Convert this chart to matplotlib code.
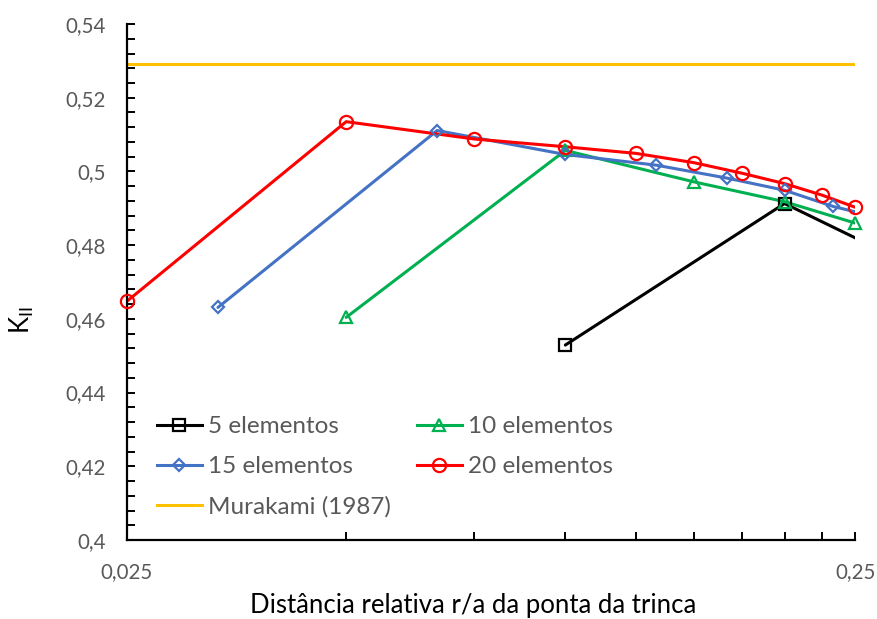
import matplotlib.pyplot as plt
from matplotlib.lines import Line2D
from matplotlib.ticker import FixedLocator, FixedFormatter, MultipleLocator, NullFormatter

plt.rcParams['font.family'] = ['Lato', 'DejaVu Sans']
plt.rcParams['mathtext.default'] = 'regular'

# K_II along the crack front, by number of elements
x_5 = [0.1, 0.2, 0.3]
k_5 = [0.4529, 0.4913, 0.4744]

x_10 = [0.05, 0.1, 0.15, 0.2, 0.25]
k_10 = [0.4604, 0.5057, 0.4972, 0.4918, 0.4860]

x_15 = [1/30, 2/30, 3/30, 4/30, 5/30, 6/30, 7/30, 8/30]
k_15 = [0.4631, 0.5111, 0.5046, 0.5017, 0.4982, 0.4949, 0.4905, 0.4877]

x_20 = [0.025, 0.05, 0.075, 0.1, 0.125, 0.15, 0.175, 0.2, 0.225, 0.25]
k_20 = [0.4648, 0.5135, 0.5088, 0.5067, 0.5049, 0.5024, 0.4995, 0.4967, 0.4936, 0.4903]

k_murakami = 0.5292

x_min, x_max = 0.025, 0.25
y_ticks = [0.40, 0.42, 0.44, 0.46, 0.48, 0.50, 0.52, 0.54]
y_labels = ["0,4", "0,42", "0,44", "0,46", "0,48", "0,5", "0,52", "0,54"]

series = [
    ("5 elementos", x_5, k_5, "black", "s", 8.5),
    ("10 elementos", x_10, k_10, "#00B050", "^", 9),
    ("15 elementos", x_15, k_15, "#4472C4", "D", 6.5),
    ("20 elementos", x_20, k_20, "#FF0000", "o", 9.5),
]

fig = plt.figure(figsize=(8.77, 6.19), dpi=100)
ax = fig.add_axes([0.1448, 0.1276, 0.8302, 0.8336])

handles = {}
for name, xs, ys, color, marker, ms in series:
    ax.plot(xs, ys, color=color, lw=2.2, solid_capstyle="round", zorder=2)
    inside = [(x, y) for x, y in zip(xs, ys) if x_min - 1e-9 <= x <= x_max + 1e-9]
    ax.plot([p[0] for p in inside], [p[1] for p in inside], linestyle="none",
            marker=marker, ms=ms, mfc="none", mec=color, mew=1.6,
            clip_on=False, zorder=3)
    handles[name] = Line2D([], [], color=color, lw=2.2, marker=marker, ms=ms,
                           mfc="none", mec=color, mew=1.6)

ax.axhline(k_murakami, color="#FFC000", lw=2.2, zorder=1)
handles["Murakami (1987)"] = Line2D([], [], color="#FFC000", lw=2.2)

ax.set_xscale("log")
ax.set_xlim(x_min, x_max)
ax.set_ylim(0.40, 0.54)

ax.xaxis.set_major_locator(FixedLocator([0.025, 0.25]))
ax.xaxis.set_major_formatter(FixedFormatter(["0,025", "0,25"]))
ax.xaxis.set_minor_locator(FixedLocator(x_20[1:-1]))
ax.xaxis.set_minor_formatter(NullFormatter())

ax.yaxis.set_major_locator(FixedLocator(y_ticks))
ax.yaxis.set_major_formatter(FixedFormatter(y_labels))
ax.yaxis.set_minor_locator(MultipleLocator(0.004))

for side in ("top", "right"):
    ax.spines[side].set_visible(False)
for side in ("left", "bottom"):
    ax.spines[side].set_linewidth(1.6)
    ax.spines[side].set_color("black")

ax.tick_params(which="both", direction="in", length=6, width=1.4, color="black")
ax.tick_params(axis="both", which="major", labelsize=14.8, labelcolor="#595959")
ax.tick_params(axis="x", which="major", pad=16)
ax.tick_params(axis="y", which="major", pad=15.5)

ax.set_xlabel("Distância relativa r/a da ponta da trinca", fontsize=18.5,
              color="black", labelpad=8)
ax.xaxis.label.set_x(0.475)
ax.set_ylabel(r"K$_{II}$", fontsize=18.5, color="black")
ax.yaxis.set_label_coords(-0.125, 0.426)

order = ["5 elementos", "15 elementos", "Murakami (1987)", "10 elementos", "20 elementos"]
ax.legend([handles[n] for n in order], order, ncol=2, frameon=False,
          fontsize=17.5, labelcolor="#595959", handlelength=1.85,
          handletextpad=0.25, columnspacing=1.07, labelspacing=0.77,
          borderpad=0, borderaxespad=0,
          loc="upper left", bbox_to_anchor=(0.179, 0.3275),
          bbox_transform=fig.transFigure)

fig.savefig("out.png", dpi=100)
